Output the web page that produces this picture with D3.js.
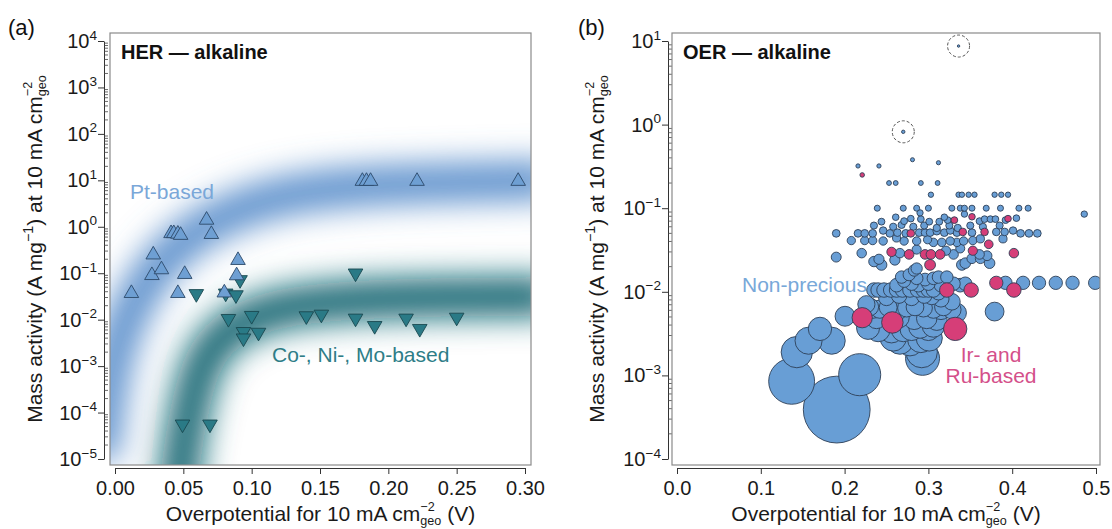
<!DOCTYPE html>
<html>
<head>
<meta charset="utf-8">
<script src="https://cdn.jsdelivr.net/npm/d3@7"></script>
<style>
  body { margin: 0; background: #fff; }
  text { font-family: "Liberation Sans", Arial, Helvetica, sans-serif; white-space: pre; }
</style>
</head>
<body>
<svg id="chart" width="1112" height="529"></svg>
<script>
// ---------------- data ----------------
// (a) HER, alkaline: [overpotential (V), mass activity (A/mg)]
var herPt = [
  [0.012, 0.037], [0.027, 0.09], [0.028, 0.25], [0.034, 0.12],
  [0.041, 0.72], [0.043, 0.72], [0.046, 0.70], [0.048, 0.66],
  [0.046, 0.037], [0.051, 0.095], [0.067, 1.4], [0.0705, 0.69],
  [0.080, 0.038], [0.090, 0.19], [0.089, 0.089],
  [0.181, 9.6], [0.184, 9.6], [0.187, 9.6], [0.221, 9.6], [0.295, 9.6]
];
var herCoNiMo = [
  [0.0595, 0.036], [0.081, 0.037], [0.0885, 0.034], [0.0915, 0.072],
  [0.083, 0.0105], [0.100, 0.0122], [0.094, 0.0055], [0.094, 0.0040], [0.105, 0.0053],
  [0.140, 0.012], [0.151, 0.013], [0.176, 0.0107], [0.176, 0.10], [0.190, 0.0074],
  [0.213, 0.0107], [0.223, 0.0064], [0.250, 0.0112],
  [0.0494, 5.6e-5], [0.0695, 5.6e-5]
];
// trend bands: [overpotential (V), log10 mass activity]
var herPtBand = [
  [-0.012, -5], [-0.006, -3.5], [0.0, -2.6], [0.012, -1.7], [0.03, -0.85], [0.05, -0.3],
  [0.07, 0.1], [0.1, 0.5], [0.14, 0.78], [0.2, 0.93], [0.32, 1.0]
];
var herCoNiMoBand = [
  [0.044, -6.5], [0.048, -5], [0.054, -4], [0.062, -3], [0.075, -2.4], [0.095, -2.0],
  [0.12, -1.75], [0.16, -1.6], [0.22, -1.52], [0.32, -1.5]
];
var herXTicks = [0, 0.05, 0.10, 0.15, 0.20, 0.25, 0.30];
var herYExps = [-5, -4, -3, -2, -1, 0, 1, 2, 3, 4];

// (b) OER, alkaline: [overpotential (V), mass activity (A/mg)]
var oerNonPrecious = [
  [0.216, 0.32], [0.241, 0.32], [0.281, 0.38], [0.312, 0.35],
  [0.253, 0.2], [0.261, 0.2], [0.291, 0.2], [0.311, 0.2],
  [0.303, 0.145], [0.336, 0.145], [0.340, 0.145], [0.348, 0.145], [0.355, 0.145],
  [0.379, 0.145], [0.387, 0.145], [0.395, 0.145],
  [0.239, 0.1], [0.270, 0.1], [0.286, 0.1], [0.300, 0.1], [0.328, 0.1], [0.338, 0.1],
  [0.343, 0.1], [0.352, 0.1], [0.369, 0.1], [0.386, 0.1], [0.408, 0.1], [0.419, 0.1],
  [0.486, 0.085],
  [0.244, 0.069], [0.261, 0.078], [0.271, 0.07], [0.279, 0.075], [0.290, 0.088], [0.291, 0.074],
  [0.301, 0.069], [0.313, 0.069], [0.319, 0.078], [0.323, 0.072], [0.343, 0.085], [0.361, 0.07],
  [0.367, 0.074], [0.374, 0.074], [0.380, 0.074], [0.392, 0.072], [0.405, 0.076],
  [0.235, 0.062], [0.258, 0.06], [0.268, 0.063], [0.282, 0.06], [0.295, 0.062], [0.31, 0.058],
  [0.325, 0.062], [0.335, 0.058], [0.35, 0.062], [0.365, 0.06], [0.385, 0.062],
  [0.19, 0.05], [0.216, 0.05], [0.224, 0.05], [0.2335, 0.05], [0.208, 0.041], [0.224, 0.041], [0.2335, 0.041],
  [0.246, 0.054], [0.254, 0.05], [0.263, 0.051], [0.273, 0.05], [0.289, 0.051], [0.296, 0.051],
  [0.302, 0.051], [0.31, 0.053], [0.319, 0.051], [0.326, 0.054], [0.334, 0.051], [0.352, 0.051],
  [0.381, 0.052], [0.391, 0.052], [0.401, 0.054], [0.41, 0.05], [0.42, 0.05], [0.43, 0.05],
  [0.246, 0.0405], [0.262, 0.044], [0.271, 0.0405], [0.286, 0.0405], [0.299, 0.042], [0.306, 0.039],
  [0.316, 0.039], [0.326, 0.0405], [0.334, 0.039], [0.342, 0.0405], [0.353, 0.041], [0.362, 0.043], [0.389, 0.043],
  [0.19, 0.026], [0.2204, 0.029], [0.241, 0.0245], [0.244, 0.021], [0.235, 0.023], [0.26, 0.024],
  [0.266, 0.029], [0.286, 0.032], [0.283, 0.018], [0.286, 0.019], [0.321, 0.031], [0.33, 0.028],
  [0.338, 0.033], [0.344, 0.022], [0.34, 0.021], [0.352, 0.025], [0.361, 0.028], [0.362, 0.025],
  [0.373, 0.022], [0.37, 0.027],
  [0.268, 0.015], [0.277, 0.016], [0.286, 0.0145], [0.296, 0.014], [0.306, 0.0145], [0.312, 0.015],
  [0.322, 0.015], [0.271, 0.0135], [0.288, 0.012], [0.338, 0.012], [0.344, 0.0125], [0.262, 0.012],
  [0.28, 0.0125], [0.3, 0.0125], [0.315, 0.012], [0.33, 0.0125],
  [0.392, 0.0128], [0.413, 0.0128], [0.432, 0.0128], [0.452, 0.0128], [0.472, 0.0128], [0.499, 0.0128],
  [0.235, 0.0105], [0.24, 0.0105], [0.247, 0.0105], [0.255, 0.0105], [0.262, 0.0105], [0.269, 0.0105],
  [0.278, 0.0105], [0.287, 0.0105], [0.294, 0.0105], [0.300, 0.0105], [0.306, 0.0105], [0.312, 0.0098],
  [0.25, 0.0085], [0.265, 0.009], [0.28, 0.0085], [0.295, 0.009], [0.304, 0.0087], [0.328, 0.0076], [0.315, 0.0082],
  [0.226, 0.0071], [0.234, 0.0062],
  [0.230, 0.0066], [0.242, 0.0062], [0.252, 0.0065], [0.264, 0.006], [0.274, 0.0064], [0.284, 0.0066],
  [0.294, 0.0064], [0.306, 0.0062], [0.315, 0.006], [0.318, 0.0066], [0.328, 0.0061], [0.334, 0.0056],
  [0.379, 0.0058],
  [0.2005, 0.0051], [0.238, 0.0048], [0.265, 0.0049], [0.283, 0.0047], [0.298, 0.0048], [0.31, 0.0046],
  [0.228, 0.0037], [0.24, 0.0035], [0.256, 0.0034], [0.27, 0.0035], [0.28, 0.0036], [0.29, 0.0038],
  [0.3, 0.0036], [0.306, 0.0039],
  [0.258, 0.0028], [0.266, 0.0026], [0.278, 0.0025], [0.291, 0.0027], [0.301, 0.0028],
  [0.292, 0.0019], [0.293, 0.0016],
  [0.1706, 0.0036], [0.1846, 0.0026], [0.157, 0.0026], [0.143, 0.0019], [0.1368, 0.00085],
  [0.218, 0.00102], [0.1906, 0.00039]
];
var oerIrRu = [
  [0.221, 0.25],
  [0.331, 0.072], [0.352, 0.079], [0.395, 0.075],
  [0.279, 0.05], [0.341, 0.052], [0.367, 0.052],
  [0.372, 0.037],
  [0.256, 0.03], [0.277, 0.028], [0.296, 0.028], [0.303, 0.028], [0.314, 0.028], [0.353, 0.031], [0.402, 0.029],
  [0.302, 0.021],
  [0.322, 0.0105], [0.351, 0.0105], [0.381, 0.0128], [0.402, 0.0105],
  [0.221, 0.0049], [0.257, 0.0043], [0.332, 0.0036]
];
var oerCircled = [[0.336, 8.7], [0.27, 0.82]];
var oerXTicks = [0, 0.1, 0.2, 0.3, 0.4, 0.5];
var oerYExps = [-4, -3, -2, -1, 0, 1];

// ---------------- setup ----------------
var W = 1112, H = 529;
var svg = d3.select( "#chart" );
var defs = svg.append( "defs" );
var FS = 20;

defs.append( "filter" )
  .attr( "id", "blur" )
  .attr( "filterUnits", "userSpaceOnUse" )
  .attr( "x", 0 ).attr( "y", 0 ).attr( "width", W ).attr( "height", H )
  .append( "feGaussianBlur" ).attr( "stdDeviation", 16 );

// text with super/subscripts, laid out piece by piece
function richText( parent, x, y, parts, size, anchor, rotate, color ) {
  var grp = parent.append( "g" )
    .attr( "transform", "translate(" + x + "," + y + ")" + ( rotate ? " rotate(" + rotate + ")" : "" ) );
  var inner = grp.append( "g" ).attr( "fill", color || "#1a1a1a" );
  var cx = 0;
  parts.forEach( function( p ) {
    if ( typeof p === "string" ) {
      var t = inner.append( "text" ).attr( "x", cx ).attr( "y", 0 ).attr( "font-size", size ).text( p );
      cx += t.node().getComputedTextLength();
    } else {
      var w = 0;
      var stacked = p.sup && p.sub;
      var small = size * ( stacked ? 0.6 : 0.68 );
      if ( p.sup ) {
        var ts = inner.append( "text" ).attr( "x", cx ).attr( "y", -size * ( stacked ? 0.5 : 0.42 ) )
          .attr( "font-size", small ).text( p.sup );
        w = Math.max( w, ts.node().getComputedTextLength() );
      }
      if ( p.sub ) {
        var tb = inner.append( "text" ).attr( "x", cx ).attr( "y", size * 0.2 )
          .attr( "font-size", small ).text( p.sub );
        w = Math.max( w, tb.node().getComputedTextLength() );
      }
      cx += w;
    }
  } );
  var shift = anchor === "middle" ? -cx / 2 : anchor === "end" ? -cx : 0;
  inner.attr( "transform", "translate(" + shift + ",0)" );
  return grp;
}

function drawPanel( cfg ) {
  var g = svg.append( "g" );
  var f = cfg.frame;

  defs.append( "clipPath" ).attr( "id", cfg.id + "-clip" )
    .append( "rect" ).attr( "x", f.l ).attr( "y", f.t ).attr( "width", f.r - f.l ).attr( "height", f.b - f.t );

  var plot = g.append( "g" ).attr( "clip-path", "url(#" + cfg.id + "-clip)" );

  // x axis
  var xAxis = d3.axisBottom( cfg.x ).tickValues( cfg.xTicks ).tickFormat( d3.format( cfg.xFormat ) )
    .tickSize( 6 ).tickSizeOuter( 0 ).tickPadding( 7 );
  var gx = g.append( "g" ).attr( "transform", "translate(0," + cfg.xAxisY + ")" ).call( xAxis );
  gx.selectAll( "text" ).attr( "font-size", FS ).attr( "fill", "#1a1a1a" )
    .style( "font-family", "'Liberation Sans', Arial, sans-serif" );
  gx.selectAll( "path,line" ).attr( "stroke", "#333" );

  // y axis (log): major ticks outward, minor ticks inward
  var yAxis = d3.axisLeft( cfg.y ).tickValues( cfg.yExps.map( function( e ) { return Math.pow( 10, e ); } ) )
    .tickFormat( "" ).tickSize( 6 ).tickSizeOuter( 0 );
  var gy = g.append( "g" ).attr( "transform", "translate(" + cfg.yAxisX + ",0)" ).call( yAxis );
  gy.selectAll( "path,line" ).attr( "stroke", "#333" );
  var minor = [];
  for ( var e = cfg.yExps[ 0 ]; e < cfg.yExps[ cfg.yExps.length - 1 ]; e++ ) {
    for ( var k = 2; k <= 9; k++ ) minor.push( k * Math.pow( 10, e ) );
  }
  g.append( "g" ).selectAll( "line" ).data( minor ).enter().append( "line" )
    .attr( "x1", cfg.yAxisX ).attr( "x2", cfg.yAxisX + 4 )
    .attr( "y1", function( d ) { return cfg.y( d ); } ).attr( "y2", function( d ) { return cfg.y( d ); } )
    .attr( "stroke", "#444" ).attr( "stroke-width", 0.8 );
  cfg.yExps.forEach( function( e ) {
    richText( g, cfg.yAxisX - 7, cfg.y( Math.pow( 10, e ) ) + 7,
      [ "10", { sup: e < 0 ? "\u2212" + ( -e ) : String( e ) } ], FS, "end" );
  } );

  // frame
  g.append( "rect" ).attr( "x", f.l ).attr( "y", f.t ).attr( "width", f.r - f.l ).attr( "height", f.b - f.t )
    .attr( "fill", "none" ).attr( "stroke", "#8a8a8a" ).attr( "stroke-width", 1.2 );

  // axis titles
  var cm = [ "Overpotential for 10 mA cm", { sup: "\u22122", sub: "geo" }, " (V)" ];
  richText( g, ( f.l + f.r ) / 2, 521, cm, 21, "middle" );
  richText( g, f.l - 68, ( f.t + f.b ) / 2,
    [ "Mass activity (A mg", { sup: "\u22121" }, ") at 10 mA cm", { sup: "\u22122", sub: "geo" } ],
    21, "middle", -90 );

  g.append( "text" ).attr( "x", f.l + 11 ).attr( "y", 59 ).attr( "font-size", 20 )
    .attr( "font-weight", "bold" ).attr( "fill", "#111" ).text( cfg.title );
  g.append( "text" ).attr( "x", cfg.letterX ).attr( "y", 35 ).attr( "font-size", 22 )
    .attr( "fill", "#111" ).text( cfg.letter );

  return plot;
}

// ---------------- panel (a) ----------------
var xA = d3.scaleLinear().domain( [ 0, 0.30 ] ).range( [ 115, 525 ] );
var yA = d3.scaleLog().domain( [ 1e-5, 1e4 ] ).range( [ 459, 41 ] );
var plotA = drawPanel( {
  id: "a", frame: { l: 110, r: 531, t: 33, b: 465 }, x: xA, y: yA,
  xTicks: herXTicks, xFormat: ".2f", yExps: herYExps,
  xAxisY: 468, yAxisX: 104, title: "HER \u2014 alkaline", letter: "(a)", letterX: 8
} );

var bandLine = d3.line()
  .x( function( d ) { return xA( d[ 0 ] ); } )
  .y( function( d ) { return yA( Math.pow( 10, d[ 1 ] ) ); } )
  .curve( d3.curveBasis );
var bands = plotA.append( "g" ).attr( "filter", "url(#blur)" );
bands.append( "path" ).attr( "d", bandLine( herPtBand ) )
  .attr( "fill", "none" ).attr( "stroke", "#5a8ecb" ).attr( "stroke-width", 38 );
bands.append( "path" ).attr( "d", bandLine( herCoNiMoBand ) )
  .attr( "fill", "none" ).attr( "stroke", "#10626e" ).attr( "stroke-width", 38 );

var tri = d3.symbol().type( d3.symbolTriangle ).size( 92 );
plotA.append( "g" ).selectAll( "path" ).data( herCoNiMo ).enter().append( "path" )
  .attr( "d", tri )
  .attr( "transform", function( d ) { return "translate(" + xA( d[ 0 ] ) + "," + yA( d[ 1 ] ) + ") rotate(180)"; } )
  .attr( "fill", "#2a7a86" ).attr( "stroke", "#1a4850" ).attr( "stroke-width", 0.9 );
plotA.append( "g" ).selectAll( "path" ).data( herPt ).enter().append( "path" )
  .attr( "d", tri )
  .attr( "transform", function( d ) { return "translate(" + xA( d[ 0 ] ) + "," + yA( d[ 1 ] ) + ")"; } )
  .attr( "fill", "#6e9fd3" ).attr( "stroke", "#2c4a6a" ).attr( "stroke-width", 0.9 );

svg.append( "text" ).attr( "x", 130 ).attr( "y", 199 ).attr( "font-size", 21 )
  .attr( "fill", "#7aa7d8" ).text( "Pt-based" );
svg.append( "text" ).attr( "x", 272 ).attr( "y", 362 ).attr( "font-size", 21 )
  .attr( "fill", "#2e7d87" ).text( "Co-, Ni-, Mo-based" );

// ---------------- panel (b) ----------------
var xB = d3.scaleLinear().domain( [ 0, 0.5 ] ).range( [ 677, 1096 ] );
var yB = d3.scaleLog().domain( [ 1e-4, 1e1 ] ).range( [ 459, 41 ] );
var plotB = drawPanel( {
  id: "b", frame: { l: 672, r: 1100, t: 33, b: 465 }, x: xB, y: yB,
  xTicks: oerXTicks, xFormat: ".1f", yExps: oerYExps,
  xAxisY: 468, yAxisX: 668, title: "OER \u2014 alkaline", letter: "(b)", letterX: 578
} );

// circle size follows catalyst loading (~ 1 / mass activity)
var rB = d3.scaleSqrt().domain( [ 0, 2500 ] ).range( [ 1, 33 ] );
function bubbles( data, fill ) {
  var sorted = data.slice().sort( function( a, b ) { return a[ 1 ] - b[ 1 ]; } );
  plotB.append( "g" ).selectAll( "circle" ).data( sorted ).enter().append( "circle" )
    .attr( "cx", function( d ) { return xB( d[ 0 ] ); } )
    .attr( "cy", function( d ) { return yB( d[ 1 ] ); } )
    .attr( "r", function( d ) { return rB( 1 / d[ 1 ] ); } )
    .attr( "fill", fill ).attr( "stroke", "#2e4057" ).attr( "stroke-width", 0.9 );
}
bubbles( oerNonPrecious, "#689ed5" );
bubbles( oerIrRu, "#d63e78" );
bubbles( oerCircled, "#689ed5" );
plotB.append( "g" ).selectAll( "circle" ).data( oerCircled ).enter().append( "circle" )
  .attr( "cx", function( d ) { return xB( d[ 0 ] ); } )
  .attr( "cy", function( d ) { return yB( d[ 1 ] ); } )
  .attr( "r", 11 ).attr( "fill", "none" ).attr( "stroke", "#555" )
  .attr( "stroke-width", 1 ).attr( "stroke-dasharray", "3,2" );

svg.append( "text" ).attr( "x", 742 ).attr( "y", 292 ).attr( "font-size", 21 )
  .attr( "fill", "#78a8d9" ).text( "Non-precious" );
svg.append( "text" ).attr( "x", 991 ).attr( "y", 362 ).attr( "font-size", 21 )
  .attr( "text-anchor", "middle" ).attr( "fill", "#d4508a" ).text( "Ir- and" );
svg.append( "text" ).attr( "x", 991 ).attr( "y", 383 ).attr( "font-size", 21 )
  .attr( "text-anchor", "middle" ).attr( "fill", "#d4508a" ).text( "Ru-based" );
</script>
</body>
</html>
